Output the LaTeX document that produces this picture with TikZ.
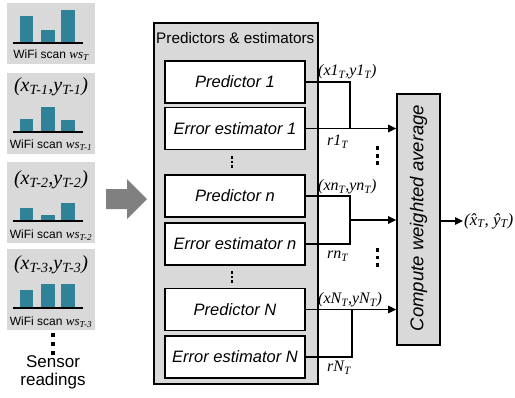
\documentclass[tikz,border=0pt]{standalone}
\usepackage{fontspec}
\usepackage{graphicx}
\setmainfont{Liberation Sans}
\newfontfamily\tms{Liberation Serif}
\usetikzlibrary{arrows.meta}
\definecolor{panelgray}{RGB}{217,217,217}
\definecolor{barteal}{RGB}{47,130,152}
\definecolor{bigarrow}{RGB}{128,128,128}
\newcommand{\fs}[1]{\fontsize{#1}{#1}\selectfont}
\newcommand{\sub}[1]{\textsubscript{#1}}
\tikzset{
  panel/.style={fill=panelgray, draw=none, inner sep=0pt, minimum width=88pt, minimum height=81pt},
  bar/.style={fill=barteal, draw=none},
  baseln/.style={line width=2.4pt},
  scanlbl/.style={inner sep=0pt, font=\fs{12}},
  poslbl/.style={inner sep=0pt, font=\fs{20}\tms\itshape},
  inbox/.style={draw, line width=1.5pt, fill=white, inner sep=0pt,
    minimum width=140pt, minimum height=42pt, font=\fs{16.5}\itshape},
  conn/.style={line width=1.6pt},
  arr/.style={conn, -{Triangle[length=8pt,width=7.5pt]}},
  outlbl/.style={inner sep=0pt, anchor=west, font=\fs{16}\tms\itshape},
  dot/.style={fill=black, draw=none},
}
\begin{document}
\begin{tikzpicture}[x=1pt,y=-1pt]
\useasboundingbox (0,0) rectangle (515,397);

% ---- input panels: WiFi scans with known positions ----
\node[panel, minimum height=61pt] (p1) at (51,33.5) {};
\node[panel] (p2) at (51,113.5) {};
\node[panel] (p3) at (51,202.5) {};
\node[panel] (p4) at (51,289.5) {};

% bars of scan T
\fill[bar] (20,16) rectangle (33,43);
\fill[bar] (41,30) rectangle (55,43);
\fill[bar] (61,10) rectangle (75,43);
\draw[baseln] (13,43) -- (83,43);
\node[scanlbl] (s1) at (51,55) {WiFi scan {\tms\itshape\fs{13}ws\sub{T}}};

% scan T-1
\node[poslbl] (x2) at (51,87) {(x\sub{T-1},y\sub{T-1})};
\fill[bar] (20,119) rectangle (33,132);
\fill[bar] (41,107) rectangle (55,132);
\fill[bar] (61,120) rectangle (75,132);
\draw[baseln] (13,132) -- (83,132);
\node[scanlbl] (s2) at (51,145) {WiFi scan {\tms\itshape\fs{13}ws\sub{T-1}}};

% scan T-2
\node[poslbl] (x3) at (51,180) {(x\sub{T-2},y\sub{T-2})};
\fill[bar] (20,208) rectangle (33,221);
\fill[bar] (41,215) rectangle (55,221);
\fill[bar] (61,203) rectangle (75,221);
\draw[baseln] (13,221) -- (83,221);
\node[scanlbl] (s3) at (51,235) {WiFi scan {\tms\itshape\fs{13}ws\sub{T-2}}};

% scan T-3
\node[poslbl] (x4) at (51,265) {(x\sub{T-3},y\sub{T-3})};
\fill[bar] (20,290) rectangle (33,308);
\fill[bar] (41,284) rectangle (55,308);
\fill[bar] (61,284) rectangle (75,308);
\draw[baseln] (13,308) -- (83,308);
\node[scanlbl] (s4) at (51,322) {WiFi scan {\tms\itshape\fs{13}ws\sub{T-3}}};

% vertical dots and caption
\foreach \y in {335,344,353} \fill[dot] (51,\y-2) rectangle (55,\y+2);
\node[inner sep=0pt, align=center, font=\fs{17}] (sens) at (53,372)
  {Sensor\\[1pt]readings};

% ---- big gray arrow ----
\fill[bigarrow] (106,189) -- (127,189) -- (127,179) -- (147,199)
  -- (127,219) -- (127,209) -- (106,209) -- cycle;

% ---- predictors & estimators ----
\node[draw, line width=1.6pt, fill=panelgray, minimum width=164pt,
  minimum height=361pt, inner sep=0pt] (main) at (236,203.5) {};
\node[inner sep=0pt, anchor=west, font=\fs{15.3}] (title) at (156,38)
  {Predictors \& estimators};

\node[inbox] (P1) at (235,82) {Predictor 1};
\node[inbox] (E1) at (235,128.5) {Error estimator 1};
\node[inbox] (Pn) at (235,196) {Predictor n};
\node[inbox] (En) at (235,244) {Error estimator n};
\node[inbox] (PN) at (235,309.5) {Predictor N};
\node[inbox] (EN) at (235,357) {Error estimator N};

\foreach \y in {157.5,162,166.5} \fill[dot] (231,\y-1.1) rectangle (233.2,\y+1.1);
\foreach \y in {272.5,277,281.5} \fill[dot] (231,\y-1.1) rectangle (233.2,\y+1.1);

% ---- weighted average ----
\node[draw, line width=1.6pt, fill=panelgray, minimum width=43pt,
  minimum height=251pt, inner sep=0pt] (avg) at (418.5,219.5) {};
\node[inner sep=0pt, rotate=90, font=\fs{18.5}\itshape] (avgt) at (418.5,218)
  {Compute weighted average};

% ---- connectors ----
\coordinate (j1) at (350,128.5);
\coordinate (jn) at (350,220);
\coordinate (jN) at (352,357);

\draw[conn] (P1.east) -| (j1);
\draw[arr] (E1.east) -- (E1.east -| avg.west);

\draw[conn] (Pn.east) -| (jn |- En.east) -- (En.east);
\draw[arr] (jn) -- (jn -| avg.west);

\draw[arr] (PN.east) -- (PN.east -| avg.west);
\draw[conn] (PN.east -| jN) -- (jN) -- (EN.east);

\coordinate (out) at (463,221);
\draw[arr] (avg.east |- out) -- (out);

% labels
\node[outlbl] (l1) at (318,72) {(x1\sub{T},y1\sub{T})};
\node[outlbl] (r1) at (327,142) {r1\sub{T}};
\node[outlbl] (ln) at (318,187) {(xn\sub{T},yn\sub{T})};
\node[outlbl] (rn) at (327,256) {rn\sub{T}};
\node[outlbl] (lN) at (318,300) {(xN\sub{T},yN\sub{T})};
\node[outlbl] (rN) at (327,368) {rN\sub{T}};
\node[outlbl, font=\fs{17}\tms\itshape] (res) at (464,221) {(\^{x}\sub{T}, \^{y}\sub{T})};

\foreach \y in {148,156,163} \fill[dot] (375.5,\y-1.8) rectangle (379,\y+1.8);
\foreach \y in {250,257.5,265} \fill[dot] (375.5,\y-1.8) rectangle (379,\y+1.8);
\end{tikzpicture}
\end{document}
